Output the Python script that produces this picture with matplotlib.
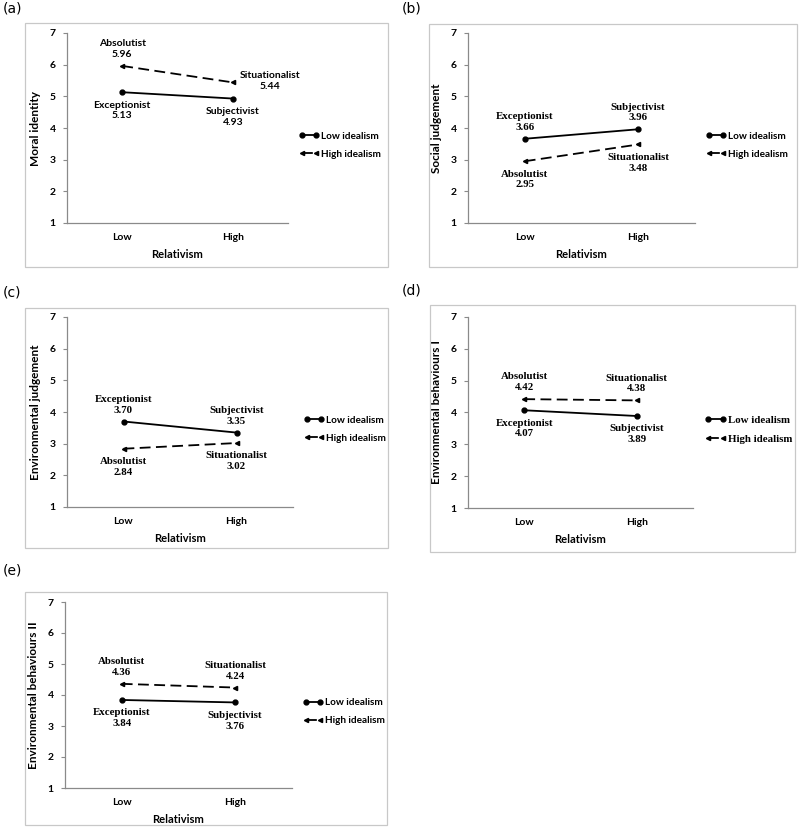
import matplotlib.pyplot as plt
from matplotlib.patches import Rectangle

# Data
panel_tags = ['(a)', '(b)', '(c)', '(d)', '(e)']
y_labels = ['Moral identity', 'Social judgement', 'Environmental judgement',
            'Environmental behaviours I', 'Environmental behaviours II']
categories = ['Low', 'High']
low_idealism = [[5.13, 4.93], [3.66, 3.96], [3.70, 3.35], [4.07, 3.89], [3.84, 3.76]]
high_idealism = [[5.96, 5.44], [2.95, 3.48], [2.84, 3.02], [4.42, 4.38], [4.36, 4.24]]
low_names = ['Exceptionist', 'Subjectivist']
high_names = ['Absolutist', 'Situationalist']

# layout in pixels: axes (left, right, top, bottom), frame (left, right, top, bottom), tag (x, y)
W, H = 800, 834
axes_px = [(67, 288, 33, 223), (468, 695, 33, 223), (67, 293, 317, 507),
           (468, 693, 317, 508), (65, 292, 602, 788)]
frame_px = [(25, 388, 23, 267), (429, 797, 24, 267), (25, 388, 308, 548),
            (430, 795, 305, 552), (25, 387, 592, 825)]
tag_px = [(3, 2), (402, 2), (3, 286), (402, 283), (3, 564)]

SANS = 'Lato'
SERIF = 'Liberation Serif'
GRAY = '#8a8a8a'

fig = plt.figure(figsize=(8, 8.34), dpi=100)

for i in range(5):
    fl, fr, ft, fb = frame_px[i]
    fig.patches.append(Rectangle((fl / W, 1 - fb / H), (fr - fl) / W, (fb - ft) / H,
                                 transform=fig.transFigure, fill=False,
                                 edgecolor='#c8c8c8', linewidth=0.9))
    tx, ty = tag_px[i]
    fig.text(tx / W, 1 - ty / H, panel_tags[i], ha='left', va='top',
             fontsize=10, family='DejaVu Sans')

    l, r, t, b = axes_px[i]
    ax = fig.add_axes([l / W, 1 - b / H, (r - l) / W, (b - t) / H])
    x = [0.5, 1.5]
    ax.plot(x, low_idealism[i], color='black', lw=1.3, marker='o', ms=3.5,
            label='Low idealism')
    ax.plot(x, high_idealism[i], color='black', lw=1.3, ls=(0, (6, 3)), marker='<',
            ms=3, label='High idealism')
    ax.set_xlim(0, 2)
    ax.set_ylim(1, 7)
    ax.set_xticks(x)
    ax.set_xticklabels(categories)
    ax.set_yticks(range(1, 8))
    for s in ['top', 'right']:
        ax.spines[s].set_visible(False)
    for s in ['left', 'bottom']:
        ax.spines[s].set_color(GRAY)
        ax.spines[s].set_linewidth(0.9)
    ax.tick_params(axis='x', length=0, pad=7)
    ax.tick_params(axis='y', length=3, color=GRAY, pad=5)
    for lab in ax.get_xticklabels() + ax.get_yticklabels():
        lab.set_fontfamily(SANS)
        lab.set_fontweight('bold')
        lab.set_fontsize(7.5)
    ax.set_xlabel('Relativism', family=SANS, fontweight='bold', fontsize=8, labelpad=5)
    ax.set_ylabel(y_labels[i], family=SANS, fontweight='bold', fontsize=8.5, labelpad=6)

    fam = SANS if i == 0 else SERIF
    fs = 7.5 if i == 0 else 7.8
    # placement of each point's label: 'above', 'below' or 'right'
    if i == 0:
        low_pos = ['below', 'below']
        high_pos = ['above', 'right']
    elif i in (1, 2):
        low_pos = ['above', 'above']
        high_pos = ['below', 'below']
    else:
        low_pos = ['below', 'below']
        high_pos = ['above', 'above']

    for names, vals, poss in [(low_names, low_idealism[i], low_pos),
                              (high_names, high_idealism[i], high_pos)]:
        for j in range(2):
            txt = f'{names[j]}\n{vals[j]:.2f}'
            if poss[j] == 'above':
                off, va, ha = (0, 5), 'bottom', 'center'
            elif poss[j] == 'below':
                off, va, ha = (0, -6), 'top', 'center'
            else:
                off, va, ha = (5, 1), 'center', 'left'
            ax.annotate(txt, (x[j], vals[j]), xytext=off, textcoords='offset points',
                        ha=ha, va=va, multialignment='center', fontsize=fs,
                        family=fam, fontweight='bold', linespacing=1.25)

    leg_fam = SERIF if i == 3 else SANS
    ax.legend(loc='center left', bbox_to_anchor=(1.05, 0.41), frameon=False,
              borderpad=0, borderaxespad=0, numpoints=2, handlelength=2.0,
              handletextpad=0.2, labelspacing=0.9,
              prop={'family': leg_fam, 'weight': 'bold', 'size': 7.2 if i != 3 else 7.8})

fig.savefig('out.png', dpi=100)
